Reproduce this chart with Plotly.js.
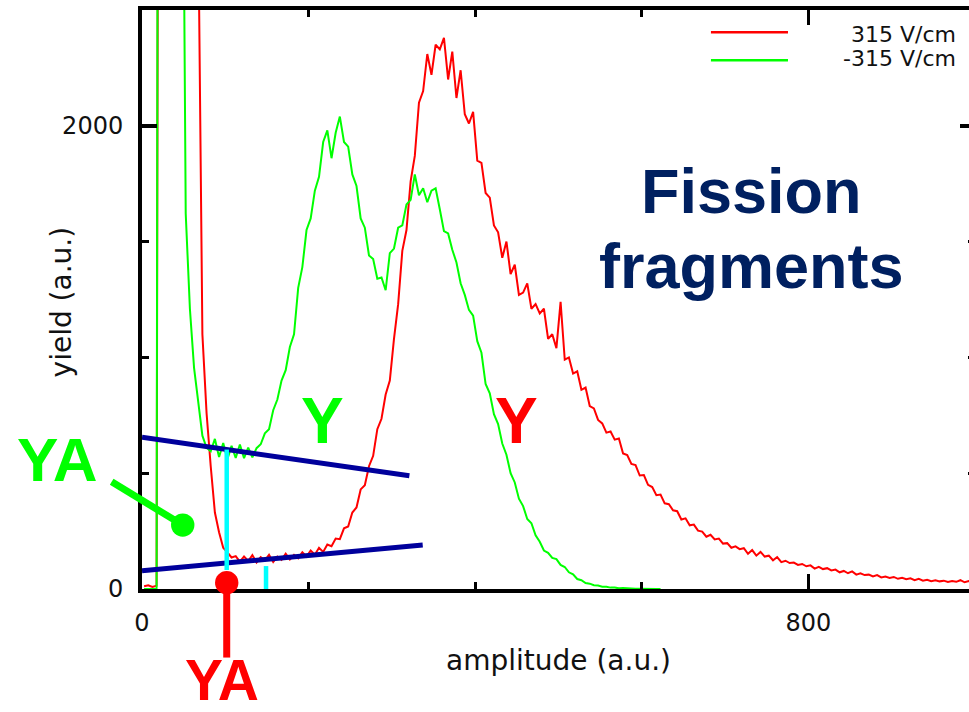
<!DOCTYPE html>
<html>
<head>
<meta charset="utf-8">
<script src="https://cdn.plot.ly/plotly-3.0.1.min.js"></script>
<style>
  html, body { margin: 0; padding: 0; overflow: hidden; background: #ffffff; }
  #chart { width: 976px; height: 712px; }
</style>
</head>
<body>
<div id="chart"></div>
<script>
// Pulse-height spectra of fission fragments, 5-channel bins (bin centre amplitude)
const amplitude = [
  2.5, 7.5, 12.5, 17.5, 22.5, 27.5, 32.5, 37.5, 42.5, 47.5, 52.5, 57.5, 62.5, 67.5, 72.5, 77.5, 82.5, 87.5, 92.5, 97.5,
  102.5, 107.5, 112.5, 117.5, 122.5, 127.5, 132.5, 137.5, 142.5, 147.5, 152.5, 157.5, 162.5, 167.5, 172.5, 177.5, 182.5, 187.5, 192.5, 197.5,
  202.5, 207.5, 212.5, 217.5, 222.5, 227.5, 232.5, 237.5, 242.5, 247.5, 252.5, 257.5, 262.5, 267.5, 272.5, 277.5, 282.5, 287.5, 292.5, 297.5,
  302.5, 307.5, 312.5, 317.5, 322.5, 327.5, 332.5, 337.5, 342.5, 347.5, 352.5, 357.5, 362.5, 367.5, 372.5, 377.5, 382.5, 387.5, 392.5, 397.5,
  402.5, 407.5, 412.5, 417.5, 422.5, 427.5, 432.5, 437.5, 442.5, 447.5, 452.5, 457.5, 462.5, 467.5, 472.5, 477.5, 482.5, 487.5, 492.5, 497.5,
  502.5, 507.5, 512.5, 517.5, 522.5, 527.5, 532.5, 537.5, 542.5, 547.5, 552.5, 557.5, 562.5, 567.5, 572.5, 577.5, 582.5, 587.5, 592.5, 597.5,
  602.5, 607.5, 612.5, 617.5, 622.5, 627.5, 632.5, 637.5, 642.5, 647.5, 652.5, 657.5, 662.5, 667.5, 672.5, 677.5, 682.5, 687.5, 692.5, 697.5,
  702.5, 707.5, 712.5, 717.5, 722.5, 727.5, 732.5, 737.5, 742.5, 747.5, 752.5, 757.5, 762.5, 767.5, 772.5, 777.5, 782.5, 787.5, 792.5, 797.5,
  802.5, 807.5, 812.5, 817.5, 822.5, 827.5, 832.5, 837.5, 842.5, 847.5, 852.5, 857.5, 862.5, 867.5, 872.5, 877.5, 882.5, 887.5, 892.5, 897.5,
  902.5, 907.5, 912.5, 917.5, 922.5, 927.5, 932.5, 937.5, 942.5, 947.5, 952.5, 957.5, 962.5, 967.5, 972.5, 977.5, 982.5, 987.5, 992.5, 997.5
];

// 315 V/cm
const yieldPos = [
  12, 16, 9, 14, 9500, 8800, 7900, 7000, 6200, 5400, 4700, 4000, 3400, 2900, 1100, 760, 530, 330, 245, 178,
  158, 136, 142, 118, 140, 121, 146, 115, 138, 124, 148, 117, 140, 126, 152, 128, 147, 133, 158, 140,
  166, 148, 178, 160, 192, 185, 218, 215, 262, 270, 330, 352, 430, 448, 530, 575, 690, 735, 840, 900,
  1080, 1230, 1460, 1550, 1760, 1870, 2100, 2150, 2310, 2220, 2350, 2330, 2380, 2200, 2320, 2120, 2240, 2050, 2010, 2060,
  1850, 1840, 1710, 1690, 1570, 1540, 1430, 1500, 1360, 1400, 1270, 1280, 1320, 1210, 1230, 1190, 1210, 1080, 1100, 1040,
  1240, 990, 1000, 930, 940, 860, 870, 790, 780, 730, 715, 675, 680, 645, 650, 585, 578, 540, 535, 490,
  492, 450, 440, 405, 408, 370, 366, 340, 336, 300, 305, 275, 278, 252, 248, 226, 234, 214, 218, 196,
  198, 178, 184, 172, 176, 152, 168, 144, 160, 140, 144, 124, 138, 116, 122, 112, 114, 104, 108, 98,
  102, 88, 96, 86, 90, 80, 84, 72, 78, 68, 76, 62, 68, 60, 62, 54, 60, 50, 54, 48,
  52, 44, 48, 42, 46, 38, 44, 36, 40, 34, 38, 33, 36, 30, 34, 31, 38, 29, 34, 27
];

// -315 V/cm (spectrum ends near 620)
const yieldNeg = [
  0, 1, 0, 1, 12000, 10500, 9000, 7500, 6000, 4200, 1620, 1210, 955, 795, 662, 610, 595, 648, 570, 630,
  560, 618, 566, 624, 565, 610, 568, 608, 625, 672, 690, 772, 818, 900, 945, 1045, 1100, 1300, 1390, 1550,
  1600, 1720, 1780, 1930, 1980, 1860, 1970, 2040, 1930, 1910, 1790, 1740, 1600, 1560, 1440, 1425, 1340, 1345, 1290, 1450,
  1470, 1560, 1570, 1660, 1680, 1790, 1700, 1730, 1670, 1720, 1730, 1640, 1545, 1535, 1465, 1410, 1320, 1270, 1205, 1180,
  1070, 1020, 885, 845, 755, 712, 628, 580, 500, 460, 390, 358, 302, 284, 232, 204, 166, 156, 134, 129,
  104, 95, 72, 63, 43, 38, 26, 23, 16, 15, 10, 10, 6, 6, 3, 4, 2, 2, 1, 1,
  0, 1, 0, 0, 0
];

const seriesNames = ['315 V/cm', '-315 V/cm'];
const seriesColors = ['#ff0000', '#00ff00'];

const X_RANGE = [0, 1000];
const Y_RANGE = [0, 2500];

// data value -> paper fraction, for overlay items that reach outside the frame
const px = v => (v - X_RANGE[0]) / (X_RANGE[1] - X_RANGE[0]);
const py = v => (v - Y_RANGE[0]) / (Y_RANGE[1] - Y_RANGE[0]);

const traces = [
  {
    x: amplitude, y: yieldPos, name: seriesNames[0], type: 'scatter', mode: 'lines',
    line: { color: seriesColors[0], width: 2 }
  },
  {
    x: amplitude.slice(0, yieldNeg.length), y: yieldNeg, name: seriesNames[1], type: 'scatter', mode: 'lines',
    line: { color: seriesColors[1], width: 2 }
  }
];

const NAVY = '#002060';
const BLUE = '#00009c';
const CYAN = '#00ffff';
const gnuFont = 'DejaVu Sans, Liberation Sans, sans-serif';
const boldFont = 'Liberation Sans, Arial, sans-serif';

const shapes = [
  // background-level lines under the two spectra
  { type: 'line', xref: 'x', yref: 'y', x0: 0, y0: 655, x1: 321, y1: 489, line: { color: BLUE, width: 5 } },
  { type: 'line', xref: 'x', yref: 'y', x0: 0, y0: 79, x1: 337, y1: 190, line: { color: BLUE, width: 5 } },
  // valley markers
  { type: 'line', xref: 'x', yref: 'y', x0: 101.7, y0: 602, x1: 101.7, y1: 82, line: { color: CYAN, width: 4.5 } },
  { type: 'line', xref: 'x', yref: 'y', x0: 148.9, y0: 99, x1: 148.9, y1: 0, line: { color: CYAN, width: 4.5 } },
  // YA pointers
  { type: 'line', xref: 'paper', yref: 'paper', x0: px(-36.4), y0: py(463), x1: px(48.9), y1: py(276),
    line: { color: '#00ff00', width: 7 } },
  { type: 'circle', xref: 'paper', yref: 'paper', xsizemode: 'pixel', ysizemode: 'pixel',
    xanchor: px(48.9), yanchor: py(276), x0: -11.7, x1: 11.7, y0: -11.7, y1: 11.7,
    fillcolor: '#00ff00', line: { width: 0 } },
  { type: 'line', xref: 'paper', yref: 'paper', x0: px(101.7), y0: py(27), x1: px(101.7), y1: py(-296),
    line: { color: '#ff0000', width: 7 } },
  { type: 'circle', xref: 'paper', yref: 'paper', xsizemode: 'pixel', ysizemode: 'pixel',
    xanchor: px(101.7), yanchor: py(27), x0: -11.7, x1: 11.7, y0: -11.7, y1: 11.7,
    fillcolor: '#ff0000', line: { width: 0 } },
  // legend samples
  { type: 'line', xref: 'x', yref: 'y', x0: 683, y0: 2404, x1: 775.5, y1: 2404, line: { color: seriesColors[0], width: 2.5 } },
  { type: 'line', xref: 'x', yref: 'y', x0: 683, y0: 2283, x1: 775.5, y1: 2283, line: { color: seriesColors[1], width: 2.5 } }
];

// every annotation is placed in paper units so that none is hidden off-axis
const label = (text, x, y, font, extra) => Object.assign({
  text: text, x: px(x), y: py(y), xref: 'paper', yref: 'paper', showarrow: false,
  xanchor: 'center', yanchor: 'middle', borderpad: 0, font: font
}, extra || {});

const bold = (color, size) => ({ family: boldFont, size: size, color: color, weight: 'bold' });
const plain = size => ({ family: gnuFont, size: size, color: '#111111' });

const annotations = [
  label(seriesNames[0], 978, 2395, plain(22), { xanchor: 'right' }),
  label(seriesNames[1], 978, 2289, plain(22), { xanchor: 'right' }),
  label('yield (a.u.)', -96.5, 1240, plain(28), { textangle: -90 }),
  label('Fission', 731.7, 1718, bold(NAVY, 63)),
  label('fragments', 731.7, 1395, bold(NAVY, 63)),
  label('Y', 217, 727, bold('#00ff00', 64)),
  label('Y', 449, 727, bold('#ff0000', 64)),
  label('YA', -101.8, 559, bold('#00ff00', 62)),
  label('YA', 96.6, -392, bold('#ff0000', 57))
];

const axisCommon = {
  ticks: 'inside', ticklen: 15, tickwidth: 3.5, tickcolor: '#000000',
  showline: true, linewidth: 4, linecolor: '#000000', mirror: 'ticks',
  showgrid: false, zeroline: false, fixedrange: true,
  tickfont: { family: gnuFont, size: 24, color: '#111111' }
};

const layout = {
  width: 976, height: 712,
  margin: { l: 142, r: 1, t: 10, b: 123 },
  paper_bgcolor: '#ffffff', plot_bgcolor: '#ffffff',
  showlegend: false,
  xaxis: Object.assign({}, axisCommon, {
    range: X_RANGE, tickmode: 'linear', tick0: 0, dtick: 800, ticklabelstandoff: 9,
    minor: { ticks: 'inside', ticklen: 7, tickwidth: 3, tickcolor: '#000000', tick0: 0, dtick: 200, showgrid: false },
    title: { text: 'amplitude (a.u.)', font: { family: gnuFont, size: 28, color: '#111111' }, standoff: 16 }
  }),
  yaxis: Object.assign({}, axisCommon, {
    range: Y_RANGE, tickmode: 'linear', tick0: 0, dtick: 2000, ticklabelstandoff: 10,
    minor: { ticks: 'inside', ticklen: 7, tickwidth: 3, tickcolor: '#000000', tick0: 0, dtick: 500, showgrid: false }
  }),
  shapes: shapes,
  annotations: annotations
};

Plotly.newPlot('chart', traces, layout, { staticPlot: true, displayModeBar: false });
</script>
</body>
</html>
